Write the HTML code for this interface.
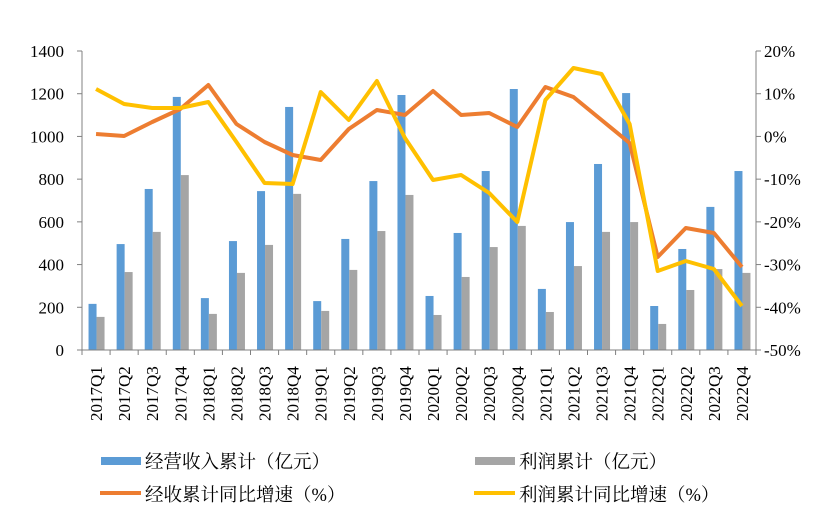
<!DOCTYPE html>
<html><head><meta charset="utf-8"><style>
body{margin:0;background:#fff}
text{font-family:"Liberation Serif","Noto Serif CJK SC",serif;fill:#000}
</style></head><body>
<svg width="827" height="522" xmlns="http://www.w3.org/2000/svg">
<g id="bars"></g>
<g stroke="#808080" stroke-width="1" fill="none">
<line x1="82" y1="51" x2="82" y2="350"/><line x1="756" y1="51" x2="756" y2="350"/><line x1="82" y1="350" x2="756" y2="350"/>
</g>
<g id="ticks" stroke="#808080" stroke-width="1"></g>
<g id="lbl" font-size="17"></g>
<polyline id="or" fill="none" stroke="#ED7D31" stroke-width="4" stroke-linejoin="round"/>
<polyline id="ye" fill="none" stroke="#FFC000" stroke-width="4" stroke-linejoin="round"/>
<rect x="101" y="457" width="40" height="8" fill="#5B9BD5"/>
<text x="145" y="468" font-size="18.5">经营收入累计（亿元）</text>
<rect x="475" y="457" width="40" height="8" fill="#A5A5A5"/>
<text x="519" y="468" font-size="18.5">利润累计（亿元）</text>
<line x1="100" y1="493" x2="141" y2="493" stroke="#ED7D31" stroke-width="4"/>
<text x="145" y="501" font-size="18.5">经收累计同比增速（%）</text>
<line x1="474" y1="493" x2="515" y2="493" stroke="#FFC000" stroke-width="4"/>
<text x="519" y="501" font-size="18.5">利润累计同比增速（%）</text>
</svg>
<script>
var ns="http://www.w3.org/2000/svg";
function el(p,t,a,tx){var e=document.createElementNS(ns,t);for(var k in a)e.setAttribute(k,a[k]);if(tx!=null)e.textContent=tx;document.getElementById(p).appendChild(e);return e;}
var B=[216,496,754,1185,243,510,744,1138,229,520,791,1194,253,548,838,1222,286,599,871,1203,206,473,670,838];
var G=[155,365,553,819,169,361,492,731,183,375,557,726,164,342,482,581,178,393,553,599,122,281,379,361];
var O=[134,136,122,109,85,124,142,155,160,129,110,115,91,115,113,127,87,97,120,143,257,228,233,267];
var Y=[89,104,108,108,102,142,183,184,92,120,81,138,180,175,193,222,100,68,74,124,271,261,269,306];
var w=674/24,k=299/1400;
var po=[],py=[];
for(var i=0;i<24;i++){
 var c=82+w*(i+0.5);
 el("bars","rect",{x:c-7.5,y:350-B[i]*k,width:8,height:B[i]*k,fill:"#5B9BD5"});
 el("bars","rect",{x:c+0.5,y:350-G[i]*k,width:8,height:G[i]*k,fill:"#A5A5A5"});
 po.push(c+","+O[i]);py.push(c+","+Y[i]);
 var q=["Q1","Q2","Q3","Q4"][i%4],yr=2017+Math.floor(i/4);
 el("lbl","text",{x:0,y:0,transform:"translate("+(c+6)+",421) rotate(-90)"},yr+q);
}
for(var i=0;i<=24;i++){var x=82+w*i;el("ticks","line",{x1:x,y1:350,x2:x,y2:355});}
for(var j=0;j<=7;j++){var y=51+j*299/7;
 el("ticks","line",{x1:77,y1:y,x2:82,y2:y});el("ticks","line",{x1:756,y1:y,x2:761,y2:y});
 el("lbl","text",{x:64,y:y+6,"text-anchor":"end"},String(1400-200*j));
 el("lbl","text",{x:764,y:y+6},(20-10*j)+"%");
}
document.getElementById("or").setAttribute("points",po.join(" "));
document.getElementById("ye").setAttribute("points",py.join(" "));
</script>
</body></html>
